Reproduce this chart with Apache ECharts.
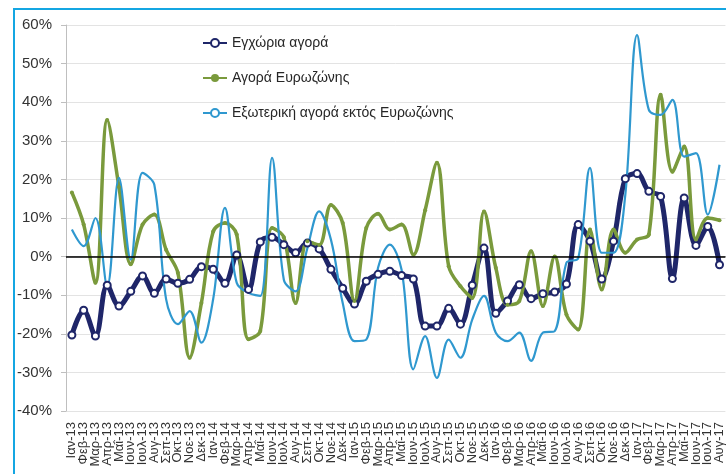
<!DOCTYPE html>
<html>
<head>
<meta charset="utf-8">
<script src="https://cdn.jsdelivr.net/npm/echarts@6/dist/echarts.min.js"></script>
<style>
  html, body { margin: 0; padding: 0; background: #fff; }
  #chart { width: 726px; height: 474px; }
</style>
</head>
<body>
<div id="chart"></div>
<script>
const months = ['Ιαν', 'Φεβ', 'Μαρ', 'Απρ', 'Μαΐ', 'Ιουν', 'Ιουλ', 'Αυγ', 'Σεπ', 'Οκτ', 'Νοε', 'Δεκ'];
const years = ['13', '14', '15', '16', '17'];
const categories = [];
years.forEach((y) => {
    months.forEach((m, i) => {
        if (y === '17' && i > 7) return;
        categories.push(m + '-' + y);
    });
});

const seriesNames = ['Εγχώρια αγορά', 'Αγορά Ευρωζώνης', 'Εξωτερική αγορά εκτός Ευρωζώνης'];

// % change
const domestic = [
    -20.3, -13.9, -20.6, -7.4, -12.8, -9, -5, -9.5, -5.8, -6.9, -5.9, -2.6,
    -3.3, -6.9, 0.4, -8.5, 3.8, 5.0, 3.1, 1.0, 3.5, 2.0, -3.3, -8.2,
    -12.3, -6.4, -4.6, -3.8, -4.9, -5.8, -18, -18, -13.4, -17.5, -7.4, 2.2,
    -14.7, -11.5, -7.3, -10.9, -9.6, -9.2, -7.1, 8.3, 4, -5.8, 4, 20.2,
    21.5, 16.9, 15.6, -5.7, 15.2, 2.9, 7.8, -2.1
];
const eurozone = [
    16.6, 8.3, -6.8, 35.4, 18, -2, 8.3, 10.9, 1.8, -4.2, -26.2, -12,
    6.5, 8.7, 5.7, -21.4, -19.3, 7.4, 5, -12, 4, 3, 13.4, 8.7,
    -11.5, 7.4, 11.1, 7, 8.3, 0.5, 12, 24.3, -2.5, -7.7, -10.7, 11.7,
    -2.9, -12.5, -11.5, 1.4, -12.8, 0, -15, -18.9, 7, -8.5, 7, 1,
    4.4, 5.7, 41.9, 22, 28.5, 4.4, 10, 9.4
];
const nonEurozone = [
    7, 2.7, 10, -7.7, 20.4, -0.8, 21.7, 18.6, -11, -17.5, -14.1, -22.3,
    -11, 12.6, -6.8, -9.4, -10.2, 25.6, -6, -9, 2.2, 11.7, 4.4, -12,
    -21.9, -21.5, -2.9, 3.1, -3.4, -29.2, -20.6, -31.4, -21.5, -26.2, -16.3, -10.2,
    -19.7, -21.9, -19.7, -27, -19.7, -19.3, -1.6, -0.4, 23, 1, 1, 16,
    57.4, 38, 36.7, 40.6, 25.9, 26.8, 10.9, 23.8
];

const font = 'Liberation Sans, Arial, sans-serif';
const chart = echarts.init(document.getElementById('chart'));

const option = {
    animation: false,
    textStyle: { fontFamily: font },
    graphic: [{
        type: 'rect',
        z: -10,
        shape: { x: 14, y: 9, width: 800, height: 600 },
        style: { fill: 'none', stroke: '#14a6e2', lineWidth: 2 }
    }],
    grid: { left: 66, right: 0, top: 25, bottom: 63 },
    legend: {
        orient: 'vertical',
        left: 197,
        top: 31,
        itemGap: 21,
        itemWidth: 24,
        itemHeight: 10,
        textStyle: { fontSize: 14, color: '#262626', fontFamily: font },
        data: seriesNames
    },
    xAxis: {
        type: 'category',
        data: categories,
        axisLine: { lineStyle: { color: '#bfbfbf', width: 1 } },
        axisTick: { show: false },
        axisLabel: {
            interval: 0,
            rotate: 90,
            fontSize: 13,
            color: '#333',
            margin: 11
        }
    },
    yAxis: {
        type: 'value',
        min: -40,
        max: 60,
        interval: 10,
        axisLine: { show: true, lineStyle: { color: '#bfbfbf' } },
        axisTick: { show: true, length: 5, lineStyle: { color: '#bfbfbf' } },
        axisLabel: {
            formatter: '{value}%',
            fontSize: 15,
            color: '#333',
            margin: 14
        },
        splitLine: { lineStyle: { color: '#e3e3e3' } }
    },
    series: [
        {
            name: seriesNames[0],
            type: 'line',
            data: domestic,
            smooth: 0.35,
            symbol: 'circle',
            symbolSize: 7,
            itemStyle: { color: '#fff', borderColor: '#1f2669', borderWidth: 2 },
            lineStyle: { color: '#1f2669', width: 5 },
            markLine: {
                silent: true,
                symbol: 'none',
                label: { show: false },
                lineStyle: { color: '#000', width: 1.5, type: 'solid' },
                data: [{ yAxis: 0 }]
            }
        },
        {
            name: seriesNames[1],
            type: 'line',
            data: eurozone,
            smooth: 0.35,
            symbol: 'circle',
            symbolSize: 4,
            itemStyle: { color: '#7a9a3c' },
            lineStyle: { color: '#7a9a3c', width: 3.5 }
        },
        {
            name: seriesNames[2],
            type: 'line',
            data: nonEurozone,
            smooth: 0.35,
            showSymbol: false,
            itemStyle: { color: '#2f98cf' },
            lineStyle: { color: '#2f98cf', width: 2.2 }
        }
    ]
};

chart.setOption(option);
</script>
</body>
</html>
